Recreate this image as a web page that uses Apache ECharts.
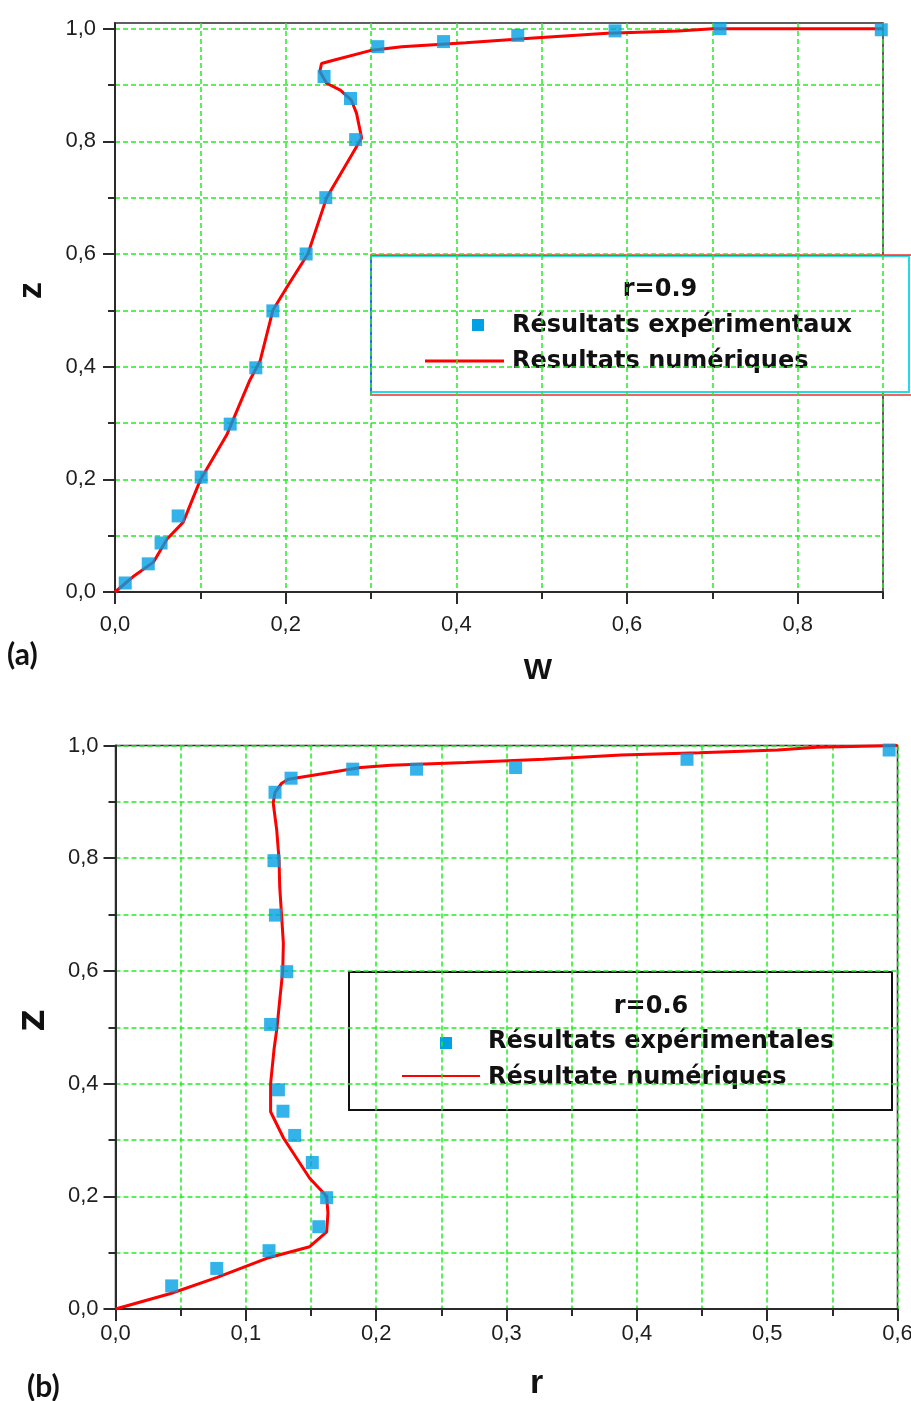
<!DOCTYPE html>
<html>
<head>
<meta charset="utf-8">
<script src="https://cdn.jsdelivr.net/npm/echarts@6/dist/echarts.min.js"></script>
<style>
  html, body { margin: 0; padding: 0; background: #ffffff; }
  #chart { width: 911px; height: 1401px; }
</style>
</head>
<body>
<div id="chart"></div>
<script>
// ---------- (a) profile at r = 0.9 : axial velocity W versus height z ----------
const expW_a = [0.012, 0.039, 0.054, 0.074, 0.101, 0.135, 0.165, 0.185, 0.224, 0.247,
                0.282, 0.276, 0.245, 0.308, 0.385, 0.472, 0.586, 0.709, 0.898];
const expZ_a = [0.016, 0.050, 0.087, 0.135, 0.204, 0.298, 0.398, 0.499, 0.600, 0.700,
                0.803, 0.876, 0.915, 0.968, 0.977, 0.988, 0.996, 1.000, 0.998];
const numW_a = [0, 0.021, 0.045, 0.061, 0.080, 0.100, 0.131, 0.158, 0.170, 0.185, 0.203,
                0.226, 0.248, 0.289, 0.283, 0.277, 0.264, 0.248, 0.240, 0.242, 0.256,
                0.299, 0.336, 0.411, 0.495, 0.577, 0.660, 0.700, 0.900];
const numZ_a = [0, 0.027, 0.053, 0.094, 0.124, 0.199, 0.279, 0.376, 0.410, 0.500, 0.545,
                0.600, 0.700, 0.806, 0.850, 0.873, 0.891, 0.903, 0.924, 0.938, 0.944,
                0.961, 0.968, 0.975, 0.984, 0.992, 0.996, 1.000, 1.000];
const ticksW_a = [0, 0.1, 0.2, 0.3, 0.4, 0.5, 0.6, 0.7, 0.8, 0.9];
const labelsW_a = [0, 0.2, 0.4, 0.6, 0.8];
const ticksZ_a = [0, 0.1, 0.2, 0.3, 0.4, 0.5, 0.6, 0.7, 0.8, 0.9, 1.0];
const labelsZ_a = [0, 0.2, 0.4, 0.6, 0.8, 1.0];
const title_a = 'r=0.9';
const names_a = ['Résultats expérimentaux', 'Resultats numériques'];

// ---------- (b) profile at r = 0.6 : Z versus r ----------
const expR_b = [0.0431, 0.0777, 0.1178, 0.156, 0.162, 0.151, 0.1375, 0.1285, 0.125, 0.119,
                0.1314, 0.1227, 0.1216, 0.1224, 0.1347, 0.182, 0.231, 0.307, 0.4385, 0.5936];
const expZ_b = [0.041, 0.072, 0.1035, 0.146, 0.1975, 0.260, 0.308, 0.351, 0.389, 0.505,
                0.5986, 0.699, 0.7956, 0.917, 0.942, 0.958, 0.958, 0.961, 0.9755, 0.992];
const numR_b = [0, 0.043, 0.078, 0.116, 0.149, 0.162, 0.163, 0.162, 0.149, 0.129, 0.119,
                0.119, 0.1216, 0.124, 0.126, 0.1283, 0.1288, 0.1275, 0.126, 0.1255, 0.1237,
                0.121, 0.1224, 0.1275, 0.1326, 0.167, 0.188, 0.211, 0.269, 0.3286, 0.388,
                0.448, 0.508, 0.538, 0.600];
const numZ_b = [0, 0.028, 0.056, 0.090, 0.1106, 0.137, 0.170, 0.200, 0.232, 0.303, 0.350,
                0.400, 0.460, 0.501, 0.548, 0.599, 0.649, 0.696, 0.749, 0.797, 0.850,
                0.898, 0.917, 0.933, 0.940, 0.953, 0.961, 0.965, 0.970, 0.9755, 0.983,
                0.987, 0.992, 0.997, 1.000];
const ticksR_b = [0, 0.05, 0.1, 0.15, 0.2, 0.25, 0.3, 0.35, 0.4, 0.45, 0.5, 0.55, 0.6];
const labelsR_b = [0, 0.1, 0.2, 0.3, 0.4, 0.5, 0.6];
const ticksZ_b = [0, 0.1, 0.2, 0.3, 0.4, 0.5, 0.6, 0.7, 0.8, 0.9, 1.0];
const labelsZ_b = [0, 0.2, 0.4, 0.6, 0.8, 1.0];
const title_b = 'r=0.6';
const names_b = ['Résultats expérimentales', 'Résultate numériques'];

const zip = (xs, ys) => xs.map((x, i) => [x, ys[i]]);
const comma = v => v.toFixed(1).replace('.', ',');

const INK = '#2b2b2b';
const GREEN = '#22ee22';
const BLUE = '#00a0e4';
const RED = '#ff0000';
const tickFont = { fontFamily: 'Liberation Sans', fontSize: 22, color: '#1e1e1e' };
const LEGEND_FONT = 'bold 24px "DejaVu Sans"';

// Axis with its short ticks, dashed grid and labels
function mainAxis(gridIndex, min, max, ticks, labels, margin, extra) {
  return Object.assign({
    type: 'value', gridIndex, min, max,
    axisLine: { show: true, onZero: false, lineStyle: { color: INK, width: 2 } },
    axisTick: { show: true, inside: false, length: 7, customValues: ticks,
                lineStyle: { color: INK, width: 2 } },
    axisLabel: Object.assign({ customValues: labels, formatter: comma, margin,
                               showMaxLabel: true }, tickFont),
    splitLine: { show: true, lineStyle: { color: GREEN, width: 1.5, type: [5, 3] } },
    minorTick: { show: false }
  }, extra || {});
}
// Companion axis carrying only the long ticks at labelled values
function longTickAxis(gridIndex, min, max, labels, position) {
  return {
    type: 'value', gridIndex, min, max, position,
    axisLine: { show: false },
    axisTick: { show: true, length: 12, customValues: labels,
                lineStyle: { color: INK, width: 2 } },
    axisLabel: { show: false },
    splitLine: { show: false }
  };
}

const nameFont = (size, fam) => ({ fontFamily: fam || 'Liberation Sans', fontWeight: 'bold',
                                   fontSize: size, color: '#111' });

const option = {
  backgroundColor: '#ffffff',
  animation: false,
  grid: [
    { left: 115, top: 23, width: 768, height: 569, show: true, borderColor: INK, borderWidth: 1.5,
      backgroundColor: 'transparent', containLabel: false, outerBoundsMode: 'none' },
    { left: 115.5, top: 745.5, width: 782, height: 563.5, show: true, borderColor: INK, borderWidth: 1.5,
      backgroundColor: 'transparent', containLabel: false, outerBoundsMode: 'none' }
  ],
  xAxis: [
    mainAxis(0, 0, 0.9, ticksW_a, labelsW_a, 22, {
      position: 'bottom', name: 'W', nameLocation: 'middle', nameGap: 64,
      nameTextStyle: Object.assign(nameFont(30), { padding: [0, 0, 0, 78] }) }),
    longTickAxis(0, 0, 0.9, labelsW_a, 'bottom'),
    mainAxis(1, 0, 0.6, ticksR_b, labelsR_b, 14, {
      position: 'bottom', name: 'r', nameLocation: 'middle', nameGap: 58,
      nameTextStyle: Object.assign(nameFont(34), { padding: [0, 0, 0, 60] }) }),
    longTickAxis(1, 0, 0.6, labelsR_b, 'bottom')
  ],
  yAxis: [
    mainAxis(0, 0, 1.01, ticksZ_a, labelsZ_a, 19, {
      position: 'left', name: 'z', nameLocation: 'middle', nameGap: 66, nameRotate: 90,
      nameTextStyle: Object.assign(nameFont(34), { padding: [0, 0, 0, 34] }) }),
    longTickAxis(0, 0, 1.01, labelsZ_a, 'left'),
    mainAxis(1, 0, 1.0, ticksZ_b, labelsZ_b, 17, {
      position: 'left', name: 'Z', nameLocation: 'middle', nameGap: 64, nameRotate: 90,
      nameTextStyle: Object.assign(nameFont(30, 'DejaVu Sans'), { padding: [0, 0, 0, 14] }) }),
    longTickAxis(1, 0, 1.0, labelsZ_b, 'left')
  ],
  series: [
    { name: names_a[1], type: 'line', xAxisIndex: 0, yAxisIndex: 0, data: zip(numW_a, numZ_a),
      showSymbol: false, smooth: false, lineStyle: { color: RED, width: 3 }, z: 3 },
    { name: names_a[0], type: 'scatter', xAxisIndex: 0, yAxisIndex: 0, data: zip(expW_a, expZ_a),
      symbol: 'rect', symbolSize: 13, itemStyle: { color: BLUE }, z: 4 },
    { name: names_b[1], type: 'line', xAxisIndex: 2, yAxisIndex: 2, data: zip(numR_b, numZ_b),
      showSymbol: false, smooth: false, lineStyle: { color: RED, width: 3 }, z: 3 },
    { name: names_b[0], type: 'scatter', xAxisIndex: 2, yAxisIndex: 2, data: zip(expR_b, expZ_b),
      symbol: 'rect', symbolSize: 13, itemStyle: { color: BLUE }, z: 4 }
  ],
  graphic: [
    // panel tags
    { type: 'text', left: 7, top: 640, z: 10,
      style: { text: '(a)', font: 'bold 30px Lato', fill: '#111' } },
    { type: 'text', left: 27, top: 1372, z: 10,
      style: { text: '(b)', font: 'bold 30px Lato', fill: '#111' } },

    // legend of panel (a)
    { type: 'group', z: 20, children: [
      { type: 'rect', shape: { x: 371, y: 256, width: 538, height: 136 },
        style: { fill: '#ffffff', stroke: '#22dde6', lineWidth: 2 } },
      { type: 'line', shape: { x1: 370, y1: 255, x2: 911, y2: 255 }, style: { stroke: '#ee3030', lineWidth: 1.5 } },
      { type: 'line', shape: { x1: 370, y1: 395, x2: 911, y2: 395 }, style: { stroke: '#ee3030', lineWidth: 1.5 } },
      { type: 'line', shape: { x1: 371, y1: 255, x2: 371, y2: 395 }, style: { stroke: '#2050e0', lineWidth: 1.5 } },
      { type: 'text', x: 660, y: 290, style: { text: title_a, font: LEGEND_FONT, fill: '#111',
        align: 'center', verticalAlign: 'middle' } },
      { type: 'rect', shape: { x: 472, y: 319, width: 12, height: 12 }, style: { fill: BLUE } },
      { type: 'text', x: 512, y: 326, style: { text: names_a[0], font: LEGEND_FONT, fill: '#111',
        align: 'left', verticalAlign: 'middle' } },
      { type: 'line', shape: { x1: 425, y1: 361, x2: 504, y2: 361 }, style: { stroke: RED, lineWidth: 3 } },
      { type: 'text', x: 512, y: 362, style: { text: names_a[1], font: LEGEND_FONT, fill: '#111',
        align: 'left', verticalAlign: 'middle' } }
    ] },

    // legend of panel (b)
    { type: 'group', z: 20, children: [
      { type: 'rect', shape: { x: 349, y: 972, width: 543, height: 138 },
        style: { fill: '#ffffff', stroke: '#111111', lineWidth: 2 } },
      { type: 'text', x: 651, y: 1007, style: { text: title_b, font: LEGEND_FONT, fill: '#111',
        align: 'center', verticalAlign: 'middle' } },
      { type: 'rect', shape: { x: 440, y: 1037, width: 12, height: 12 }, style: { fill: BLUE } },
      { type: 'text', x: 488, y: 1042, style: { text: names_b[0], font: LEGEND_FONT, fill: '#111',
        align: 'left', verticalAlign: 'middle' } },
      { type: 'line', shape: { x1: 402, y1: 1076, x2: 480, y2: 1076 }, style: { stroke: RED, lineWidth: 2 } },
      { type: 'text', x: 488, y: 1078, style: { text: names_b[1], font: LEGEND_FONT, fill: '#111',
        align: 'left', verticalAlign: 'middle' } }
    ] }
  ]
};

const chart = echarts.init(document.getElementById('chart'), null, { renderer: 'canvas' });
chart.setOption(option);
</script>
</body>
</html>
